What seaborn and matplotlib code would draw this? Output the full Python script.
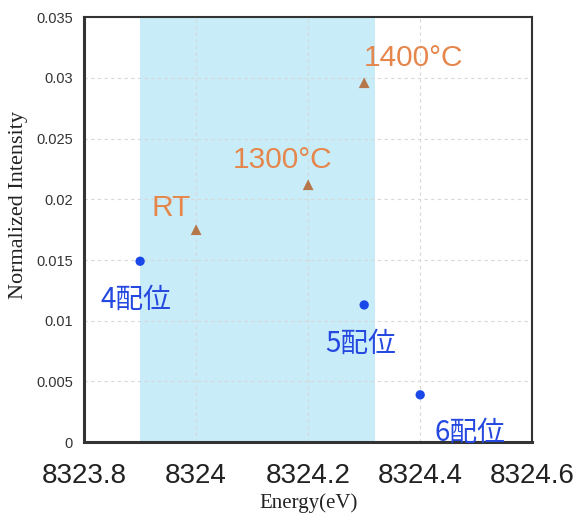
import pandas as pd
import seaborn as sns
import matplotlib.pyplot as plt

# coordination points (blue)
coord_energy = [8323.9, 8324.3, 8324.4]
coord_int = [0.0149, 0.0113, 0.0039]
coord_labels = ["4配位", "5配位", "6配位"]

# samples (triangles)
sample_energy = [8324.0, 8324.2, 8324.3]
sample_int = [0.0175, 0.0212, 0.0296]
sample_labels = ["RT", "1300°C", "1400°C"]

band = (8323.9, 8324.32)

x_ticks = [8323.8, 8324.0, 8324.2, 8324.4, 8324.6]
x_ticklabels = ["8323.8", "8324", "8324.2", "8324.4", "8324.6"]
y_ticks = [0, 0.005, 0.01, 0.015, 0.02, 0.025, 0.03, 0.035]
y_ticklabels = ["0", "0.005", "0.01", "0.015", "0.02", "0.025", "0.03", "0.035"]

sns.set_style("white")
plt.rcParams['font.family'] = ['Liberation Sans', 'Noto Sans CJK JP', 'DejaVu Sans']

fig = plt.figure(figsize=(5.76, 5.19), dpi=100)
ax = fig.add_axes([0.146, 0.148, 0.778, 0.819])

ax.axvspan(band[0], band[1], color='#c8ecf8', zorder=0, lw=0)

df_c = pd.DataFrame({'E': coord_energy, 'I': coord_int})
df_s = pd.DataFrame({'E': sample_energy, 'I': sample_int})
sns.scatterplot(data=df_c, x='E', y='I', ax=ax, color='#1a48e8', s=45, marker='o', edgecolor='none', zorder=3)
sns.scatterplot(data=df_s, x='E', y='I', ax=ax, color='#b5764a', s=60, marker='^', edgecolor='none', zorder=3)

# labels
blue_off = [(-0.007, -0.0032), (-0.007, -0.0032), (0.089, -0.0031)]
for e, i, t, (dx, dy) in zip(coord_energy, coord_int, coord_labels, blue_off):
    ax.text(e + dx, i + dy, t, color='#2448e0', fontsize=20, ha='center', va='center',
            family=['Noto Sans CJK JP', 'DejaVu Sans'], zorder=4)
orange_off = [(-0.045, 0.0018), (-0.045, 0.0020), (0.0875, 0.0020)]
for e, i, t, (dx, dy) in zip(sample_energy, sample_int, sample_labels, orange_off):
    ax.text(e + dx, i + dy, t, color='#e5864c', fontsize=21.5, ha='center', va='center', zorder=4)

ax.set_xlim(8323.8, 8324.6)
ax.set_ylim(0, 0.035)
ax.set_xticks(x_ticks)
ax.set_xticklabels(x_ticklabels, fontsize=20, color='#222222')
ax.set_yticks(y_ticks)
ax.set_yticklabels(y_ticklabels, fontsize=10.5, color='#333333')
ax.tick_params(length=0, pad=8)
ax.tick_params(axis='x', pad=15)

ax.grid(True, linestyle=(0, (3, 3)), color='#d8d8d8', lw=0.8, zorder=1)
ax.set_axisbelow(True)

for side in ['left', 'bottom']:
    ax.spines[side].set_linewidth(2.2)
    ax.spines[side].set_color('#333333')
for side in ['top', 'right']:
    ax.spines[side].set_linewidth(1.5)
    ax.spines[side].set_color('#333333')

ax.set_xlabel("Energy(eV)", family='Liberation Serif', fontsize=15, color='#222222', labelpad=3)
ax.set_ylabel("Normalized Intensity", family='Liberation Serif', fontsize=16, color='#222222')
ax.yaxis.set_label_coords(-0.125, 0.558)

plt.savefig("out.png", dpi=100)
